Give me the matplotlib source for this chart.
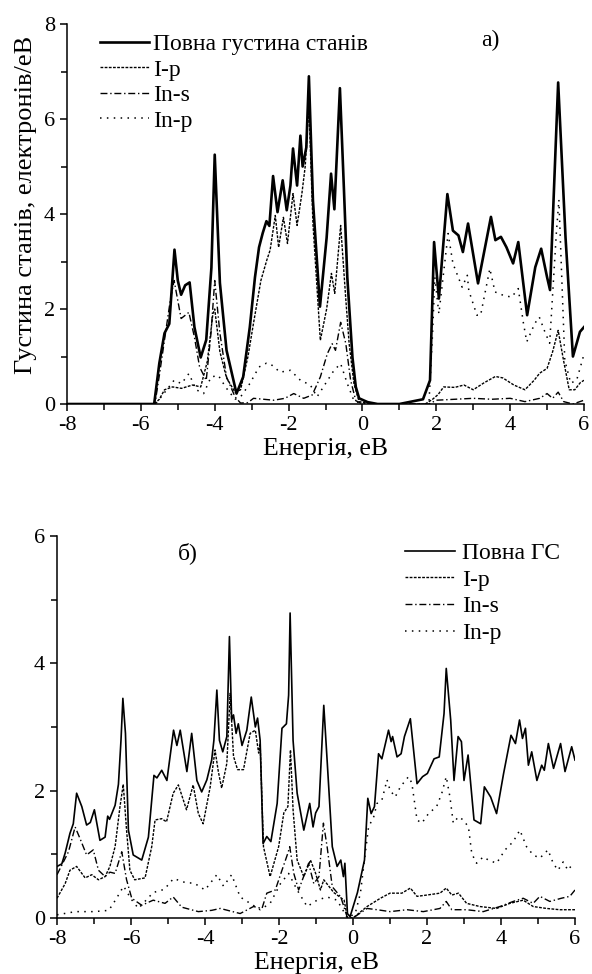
import numpy as np
import matplotlib
matplotlib.use('Agg')
import matplotlib.pyplot as plt
from matplotlib.ticker import MultipleLocator

plt.rcParams['font.family'] = ['Liberation Serif', 'DejaVu Serif']
plt.rcParams['axes.unicode_minus'] = False

# ---- panel a) : (energy eV, DOS) pairs ----
total_a = np.array([
    (-8, 0), (-5.64, 0), (-5.5, 0.86), (-5.36, 1.49), (-5.23, 1.69), (-5.09, 3.25), (-5.0, 2.6),
    (-4.91, 2.3), (-4.8, 2.5), (-4.68, 2.56), (-4.55, 1.62), (-4.38, 0.98), (-4.23, 1.35),
    (-4.09, 2.87), (-4.0, 5.25), (-3.86, 2.55), (-3.68, 1.13), (-3.41, 0.22), (-3.23, 0.57),
    (-3.05, 1.62), (-2.91, 2.67), (-2.8, 3.3), (-2.7, 3.6), (-2.6, 3.85), (-2.52, 3.75),
    (-2.42, 4.8), (-2.3, 4.04), (-2.16, 4.71), (-2.05, 4.08), (-1.95, 4.6), (-1.88, 5.38),
    (-1.77, 4.6), (-1.68, 5.65), (-1.62, 5.0), (-1.52, 5.4), (-1.45, 6.9), (-1.34, 4.28),
    (-1.15, 2.05), (-0.97, 3.5), (-0.85, 4.85), (-0.76, 4.1), (-0.61, 6.65), (-0.5, 4.5),
    (-0.41, 2.67), (-0.27, 0.98), (-0.18, 0.36), (-0.09, 0.12), (0.14, 0.04), (0.41, 0),
    (1.0, 0), (1.64, 0.1), (1.83, 0.5), (1.94, 3.41), (2.07, 2.22), (2.3, 4.42), (2.45, 3.65),
    (2.6, 3.55), (2.72, 3.2), (2.86, 3.8), (3.13, 2.54), (3.48, 3.94), (3.6, 3.45), (3.75, 3.52),
    (3.9, 3.3), (4.08, 2.96), (4.22, 3.41), (4.46, 1.87), (4.68, 2.88), (4.84, 3.27), (5.0, 2.67),
    (5.08, 2.4), (5.3, 6.77), (5.5, 3.5), (5.7, 1.0), (5.89, 1.52), (6.0, 1.62)])

ip_a = np.array([
    (-8, 0), (-5.64, 0), (-5.5, 0.1), (-5.36, 0.3), (-5.14, 0.36), (-4.9, 0.33), (-4.6, 0.4),
    (-4.38, 0.36), (-4.2, 0.9), (-4.05, 1.9), (-4.0, 2.0), (-3.86, 1.1), (-3.68, 0.55),
    (-3.45, 0.25), (-3.3, 0.3), (-3.1, 1.0), (-2.95, 1.7), (-2.75, 2.6), (-2.59, 3.03),
    (-2.5, 3.24), (-2.36, 3.97), (-2.27, 3.3), (-2.14, 3.93), (-2.03, 3.38), (-1.88, 4.43),
    (-1.77, 3.76), (-1.64, 4.43), (-1.55, 5.0), (-1.45, 6.3), (-1.34, 3.8), (-1.14, 1.34),
    (-0.97, 2.0), (-0.84, 2.75), (-0.75, 2.33), (-0.59, 3.76), (-0.45, 2.2), (-0.36, 1.27),
    (-0.23, 0.43), (-0.09, 0.05), (0.3, 0), (1.7, 0), (1.9, 0.1), (2.05, 0.2), (2.2, 0.36),
    (2.5, 0.35), (2.75, 0.4), (3.0, 0.3), (3.3, 0.45), (3.6, 0.58), (3.8, 0.55), (4.1, 0.4),
    (4.4, 0.3), (4.65, 0.5), (4.8, 0.65), (5.0, 0.75), (5.15, 1.1), (5.3, 1.55), (5.45, 0.9),
    (5.6, 0.3), (5.75, 0.3), (5.9, 0.45), (6.0, 0.5)])

ins_a = np.array([
    (-8, 0), (-5.62, 0), (-5.5, 0.6), (-5.36, 1.35), (-5.2, 2.2), (-5.1, 2.6), (-4.91, 1.8),
    (-4.7, 1.93), (-4.55, 1.41), (-4.41, 0.78), (-4.23, 0.5), (-4.1, 1.5), (-4.0, 2.6),
    (-3.86, 1.49), (-3.68, 0.57), (-3.45, 0.15), (-3.3, 0.02), (-3.1, 0.03), (-2.95, 0.12),
    (-2.4, 0.08), (-2.1, 0.12), (-1.86, 0.22), (-1.59, 0.12), (-1.36, 0.19), (-1.14, 0.57),
    (-0.95, 1.06), (-0.82, 1.27), (-0.73, 1.13), (-0.59, 1.72), (-0.45, 1.27), (-0.32, 0.5),
    (-0.18, 0.07), (0, 0), (1.8, 0), (2.0, 0.08), (2.5, 0.1), (3.0, 0.12), (3.5, 0.1),
    (4.0, 0.12), (4.4, 0.05), (4.8, 0.12), (5.0, 0.22), (5.15, 0.12), (5.3, 0.25), (5.45, 0.05),
    (5.7, 0.0), (6.0, 0.08)])

inp_a = np.array([
    (-8, 0), (-5.6, 0), (-5.4, 0.2), (-5.1, 0.5), (-4.9, 0.43), (-4.7, 0.64), (-4.5, 0.3),
    (-4.3, 0.22), (-4.1, 0.57), (-3.9, 0.6), (-3.7, 0.35), (-3.45, 0.1), (-3.3, 0.15),
    (-3.05, 0.43), (-2.8, 0.78), (-2.6, 0.86), (-2.5, 0.85), (-2.23, 0.67), (-1.95, 0.71),
    (-1.68, 0.5), (-1.41, 0.4), (-1.23, 0.15), (-1.0, 0.43), (-0.77, 0.71), (-0.59, 0.85),
    (-0.41, 0.43), (-0.23, 0.07), (0, 0), (1.8, 0), (1.9, 1.5), (1.96, 2.67), (2.07, 1.9),
    (2.32, 3.59), (2.45, 2.96), (2.7, 2.46), (2.84, 2.71), (2.88, 2.39), (3.1, 1.87), (3.2, 1.87),
    (3.45, 2.85), (3.59, 2.36), (3.81, 2.29), (4.04, 2.25), (4.22, 2.43), (4.36, 1.7),
    (4.45, 1.31), (4.67, 1.7), (4.79, 1.83), (4.94, 1.52), (5.07, 1.28), (5.25, 3.59),
    (5.32, 4.3), (5.48, 0.92), (5.64, 0.44), (5.8, 0.5), (5.99, 1.02)])

# ---- panel б) ----
total_b = np.array([
    (-8, 0.81), (-7.87, 0.85), (-7.78, 1.02), (-7.65, 1.33), (-7.56, 1.48), (-7.47, 1.96),
    (-7.33, 1.75), (-7.2, 1.46), (-7.1, 1.5), (-6.99, 1.7), (-6.84, 1.22), (-6.7, 1.27),
    (-6.63, 1.6), (-6.58, 1.55), (-6.43, 1.77), (-6.34, 2.1), (-6.27, 2.8), (-6.22, 3.45),
    (-6.15, 2.9), (-6.07, 1.38), (-5.94, 0.99), (-5.71, 0.91), (-5.53, 1.27), (-5.38, 2.24),
    (-5.3, 2.2), (-5.17, 2.32), (-5.03, 2.16), (-4.85, 2.95), (-4.76, 2.71), (-4.67, 2.95),
    (-4.49, 2.3), (-4.36, 2.9), (-4.22, 2.16), (-4.09, 1.98), (-3.95, 2.17), (-3.82, 2.48),
    (-3.76, 2.79), (-3.68, 3.58), (-3.61, 2.79), (-3.52, 2.61), (-3.41, 2.85), (-3.34, 4.42),
    (-3.28, 3.11), (-3.23, 3.19), (-3.16, 2.9), (-3.1, 3.05), (-3.0, 2.71), (-2.87, 2.95),
    (-2.75, 3.47), (-2.64, 3.0), (-2.58, 3.14), (-2.51, 2.79), (-2.43, 1.17), (-2.33, 1.28),
    (-2.22, 1.2), (-2.05, 1.8), (-1.92, 2.98), (-1.8, 3.05), (-1.74, 3.5), (-1.7, 4.79),
    (-1.62, 2.79), (-1.51, 1.96), (-1.33, 1.38), (-1.17, 1.8), (-1.08, 1.43), (-1.01, 1.65),
    (-0.92, 1.75), (-0.79, 3.34), (-0.7, 2.48), (-0.56, 1.12), (-0.43, 0.81), (-0.33, 0.91),
    (-0.26, 0.65), (-0.22, 0.86), (-0.15, 0.07), (-0.08, 0.02), (0.12, 0.4), (0.31, 0.91),
    (0.4, 1.88), (0.49, 1.64), (0.58, 1.75), (0.69, 2.58), (0.78, 2.5), (0.96, 2.95),
    (1.03, 2.77), (1.07, 2.85), (1.19, 2.53), (1.3, 2.58), (1.39, 2.85), (1.55, 3.13),
    (1.73, 2.11), (1.88, 2.22), (2.01, 2.27), (2.19, 2.5), (2.33, 2.53), (2.46, 3.21),
    (2.52, 3.92), (2.64, 3.11), (2.73, 2.16), (2.84, 2.85), (2.93, 2.77), (3.0, 2.16),
    (3.11, 2.56), (3.27, 1.54), (3.45, 1.48), (3.55, 2.06), (3.72, 1.9), (3.88, 1.64),
    (4.07, 2.27), (4.27, 2.87), (4.39, 2.74), (4.5, 3.11), (4.58, 2.82), (4.66, 2.98),
    (4.74, 2.4), (4.83, 2.61), (4.97, 2.16), (5.1, 2.4), (5.17, 2.32), (5.28, 2.74),
    (5.42, 2.35), (5.61, 2.74), (5.73, 2.3), (5.91, 2.69), (6.0, 2.48)])

ip_b = np.array([
    (-8, 0.31), (-7.78, 0.54), (-7.65, 0.75), (-7.47, 0.81), (-7.24, 0.63), (-7.06, 0.68),
    (-6.88, 0.6), (-6.7, 0.65), (-6.57, 0.81), (-6.43, 1.12), (-6.3, 1.74), (-6.21, 2.1),
    (-6.12, 1.38), (-6.03, 0.75), (-5.9, 0.6), (-5.62, 0.63), (-5.44, 1.12), (-5.35, 1.54),
    (-5.17, 1.56), (-5.04, 1.51), (-4.86, 1.96), (-4.72, 2.09), (-4.5, 1.7), (-4.32, 2.09),
    (-4.18, 1.64), (-4.05, 1.48), (-3.86, 2.06), (-3.73, 2.64), (-3.64, 2.3), (-3.55, 2.04),
    (-3.41, 2.43), (-3.32, 3.53), (-3.23, 2.54), (-3.12, 2.33), (-2.96, 2.33), (-2.78, 2.9),
    (-2.64, 2.95), (-2.55, 2.59), (-2.51, 2.74), (-2.42, 1.12), (-2.24, 0.65), (-2.01, 1.12),
    (-1.87, 1.65), (-1.76, 1.75), (-1.69, 2.64), (-1.62, 1.7), (-1.51, 0.91), (-1.33, 0.65),
    (-1.15, 0.91), (-1.01, 0.7), (-0.88, 0.44), (-0.79, 0.6), (-0.52, 0.4), (-0.24, 0.28),
    (-0.15, 0), (0.0, 0), (0.38, 0.18), (0.74, 0.31), (1.0, 0.39), (1.32, 0.39), (1.55, 0.47),
    (1.73, 0.34), (1.99, 0.36), (2.35, 0.39), (2.52, 0.47), (2.67, 0.36), (2.85, 0.39),
    (3.07, 0.23), (3.43, 0.18), (3.88, 0.15), (4.24, 0.23), (4.6, 0.28), (4.87, 0.18),
    (5.23, 0.15), (5.59, 0.13), (6.0, 0.13)])

ins_b = np.array([
    (-8, 0.68), (-7.69, 1.04), (-7.51, 1.43), (-7.38, 1.25), (-7.2, 0.99), (-7.02, 1.07),
    (-6.88, 0.75), (-6.7, 0.65), (-6.57, 0.72), (-6.43, 0.7), (-6.25, 1.04), (-6.12, 0.6),
    (-5.98, 0.31), (-5.71, 0.2), (-5.4, 0.28), (-5.08, 0.23), (-4.86, 0.33), (-4.63, 0.17),
    (-4.18, 0.1), (-3.82, 0.12), (-3.59, 0.15), (-3.05, 0.07), (-2.69, 0.18), (-2.46, 0.15),
    (-2.33, 0.39), (-2.1, 0.44), (-1.92, 0.75), (-1.76, 1.02), (-1.71, 1.12), (-1.6, 0.7),
    (-1.47, 0.44), (-1.2, 0.86), (-1.06, 0.54), (-0.92, 0.65), (-0.8, 1.49), (-0.7, 1.12),
    (-0.56, 0.49), (-0.33, 0.33), (-0.15, 0), (0.0, 0.0), (0.38, 0.15), (0.65, 0.13),
    (1.0, 0.1), (1.46, 0.13), (1.9, 0.1), (2.35, 0.15), (2.52, 0.26), (2.67, 0.13),
    (3.07, 0.13), (3.52, 0.1), (3.97, 0.18), (4.33, 0.26), (4.6, 0.31), (4.87, 0.23),
    (5.05, 0.34), (5.32, 0.26), (5.63, 0.31), (5.86, 0.34), (6.0, 0.44)])

inp_b = np.array([
    (-8, 0.05), (-7.5, 0.1), (-7.0, 0.1), (-6.6, 0.12), (-6.4, 0.3), (-6.2, 0.5), (-6.0, 0.3),
    (-5.8, 0.15), (-5.4, 0.4), (-5.1, 0.45), (-4.85, 0.62), (-4.5, 0.55), (-4.3, 0.55),
    (-4.0, 0.44), (-3.68, 0.68), (-3.5, 0.5), (-3.28, 0.68), (-3.05, 0.33), (-2.78, 0.23),
    (-2.51, 0.13), (-2.24, 0.23), (-1.96, 0.54), (-1.74, 0.7), (-1.51, 0.44), (-1.24, 0.18),
    (-0.97, 0.28), (-0.7, 0.33), (-0.43, 0.28), (-0.15, 0), (0.06, 0.07), (0.2, 0.39),
    (0.33, 1.01), (0.42, 1.43), (0.56, 1.59), (0.65, 1.8), (0.78, 1.85), (0.92, 2.17),
    (1.0, 2.01), (1.14, 1.9), (1.28, 2.06), (1.5, 2.22), (1.59, 2.12), (1.73, 1.54),
    (1.86, 1.49), (2.04, 1.64), (2.26, 1.75), (2.4, 1.96), (2.52, 2.22), (2.62, 1.9),
    (2.71, 1.49), (2.85, 1.59), (2.98, 1.54), (3.12, 1.43), (3.21, 1.01), (3.34, 0.86),
    (3.52, 0.96), (3.66, 0.91), (3.88, 0.86), (4.11, 1.07), (4.33, 1.2), (4.51, 1.38),
    (4.69, 1.12), (4.87, 0.99), (5.05, 0.94), (5.27, 1.07), (5.41, 0.86), (5.54, 0.75),
    (5.68, 0.88), (5.81, 0.75), (5.95, 0.86)])

labels_a = ['Повна густина станів', 'I-p', 'In-s', 'In-p']
labels_b = ['Повна ГС', 'I-p', 'In-s', 'In-p']

styles = ['-', (0, (2, 1)), (0, (5, 2, 1, 2)), (0, (1, 3.5))]

fig = plt.figure(figsize=(5.92, 9.74), dpi=100)
ax1 = fig.add_axes([0.1132, 0.5852, 0.8733, 0.3901])
ax2 = fig.add_axes([0.0963, 0.0575, 0.8750, 0.3922])


def style_axis(ax, ymax):
    ax.set_xlim(-8, 6)
    ax.set_ylim(0, ymax)
    ax.xaxis.set_major_locator(MultipleLocator(2))
    ax.xaxis.set_minor_locator(MultipleLocator(1))
    ax.yaxis.set_major_locator(MultipleLocator(2))
    ax.yaxis.set_minor_locator(MultipleLocator(1))
    for s in ['top', 'right']:
        ax.spines[s].set_visible(False)
    for s in ['left', 'bottom']:
        ax.spines[s].set_linewidth(1.1)
    ax.tick_params(which='both', direction='out', width=1.1, labelsize=16, pad=3.5)
    ax.tick_params(which='major', length=5)
    ax.tick_params(which='minor', length=4)
    ax.set_xlabel('Енергія, еВ', fontsize=18.5, labelpad=2.5)


series_a = [total_a, ip_a, ins_a, inp_a]
widths_a = [1.9, 1.0, 1.0, 1.1]
for data, ls, lw, lab in zip(series_a, styles, widths_a, labels_a):
    ax1.plot(data[:, 0], data[:, 1], color='black', linestyle=ls, linewidth=lw, label=lab)
style_axis(ax1, 8)
ax1.set_ylabel('Густина станів, електронів/еВ', fontsize=19)
ax1.yaxis.set_label_coords(-0.058, 0.524)
ax1.text(3.45, 7.65, 'а)', fontsize=17, ha='center', va='center')
ax1.legend(loc='upper left', bbox_to_anchor=(0.064, 0.975), frameon=False, fontsize=17,
           handlelength=2.05, handletextpad=0.2, labelspacing=0.17, borderpad=0, borderaxespad=0)

series_b = [total_b, ip_b, ins_b, inp_b]
widths_b = [1.2, 1.0, 1.0, 1.1]
for data, ls, lw, lab in zip(series_b, styles, widths_b, labels_b):
    ax2.plot(data[:, 0], data[:, 1], color='black', linestyle=ls, linewidth=lw, label=lab)
style_axis(ax2, 6)
ax2.text(-4.46, 5.73, 'б)', fontsize=17, ha='center', va='center')
ax2.legend(loc='upper left', bbox_to_anchor=(0.672, 0.983), frameon=False, fontsize=17,
           handlelength=2.1, handletextpad=0.3, labelspacing=0.22, borderpad=0, borderaxespad=0)

fig.savefig('out.png', dpi=100)
